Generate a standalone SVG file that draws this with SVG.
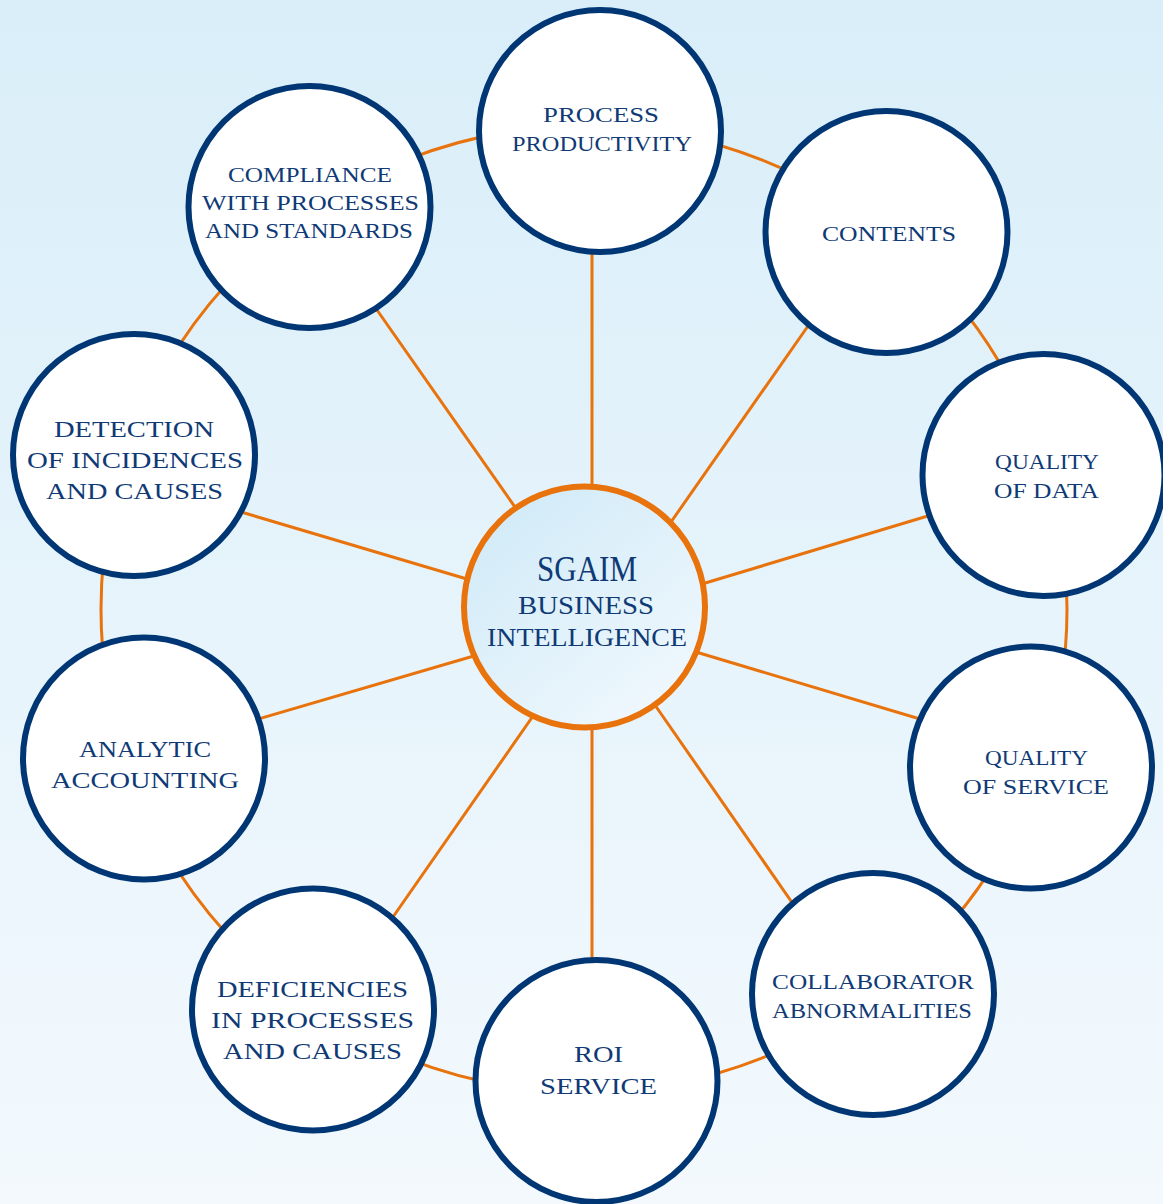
<svg xmlns="http://www.w3.org/2000/svg" width="1163" height="1204" viewBox="0 0 1163 1204">
<defs>
<linearGradient id="bg" x1="0" y1="0" x2="0" y2="1">
<stop offset="0" stop-color="#d9eef9"/>
<stop offset="1" stop-color="#f3f9fd"/>
</linearGradient>
<linearGradient id="hub" x1="0.15" y1="0.1" x2="0.85" y2="0.95">
<stop offset="0" stop-color="#d2ebf8"/>
<stop offset="1" stop-color="#f0f8fd"/>
</linearGradient>
<style>
.ring{fill:none;stroke:#e8730c;stroke-width:3}
.spoke{stroke:#e8730c;stroke-width:3;fill:none}
.node{fill:#ffffff;stroke:#003673;stroke-width:6}
.hub{fill:url(#hub);stroke:#e8730c;stroke-width:6}
text{font-family:"Liberation Serif","Times New Roman",serif;fill:#0f3a76;text-anchor:middle}
.s{font-size:22px}
.m{font-size:24px}
.c{font-size:26px}
.t{font-size:35px}
</style>
</defs>
<rect x="0" y="0" width="1163" height="1204" fill="url(#bg)"/>
<g id="connectors">
<circle class="ring" cx="584" cy="609" r="483"/>
<line class="spoke" x1="592" y1="240" x2="592" y2="500"/>
<line class="spoke" x1="592" y1="715" x2="592" y2="975"/>
<line class="spoke" x1="664" y1="532" x2="815" y2="316"/>
<line class="spoke" x1="692" y1="587" x2="941" y2="512"/>
<line class="spoke" x1="686" y1="649" x2="930" y2="722"/>
<line class="spoke" x1="648" y1="695" x2="800" y2="914"/>
<line class="spoke" x1="540" y1="706" x2="386" y2="927"/>
<line class="spoke" x1="484" y1="653" x2="248" y2="722"/>
<line class="spoke" x1="477" y1="582" x2="231" y2="509"/>
<line class="spoke" x1="522" y1="517" x2="370" y2="300"/>
</g>
<g id="hub-node">
<circle class="hub" cx="584.5" cy="607" r="120.5"/>
<text class="t" x="587" y="581" textLength="100" lengthAdjust="spacingAndGlyphs">SGAIM</text>
<text class="c" x="586" y="614" textLength="136" lengthAdjust="spacingAndGlyphs">BUSINESS</text>
<text class="c" x="587" y="646" textLength="200" lengthAdjust="spacingAndGlyphs">INTELLIGENCE</text>
</g>
<g id="node-process-productivity">
<circle class="node" cx="600" cy="131" r="121"/>
<text class="s" x="601" y="122" textLength="116" lengthAdjust="spacingAndGlyphs">PROCESS</text>
<text class="s" x="602" y="151" textLength="180" lengthAdjust="spacingAndGlyphs">PRODUCTIVITY</text>
</g>
<g id="node-contents">
<circle class="node" cx="886.5" cy="232" r="121"/>
<text class="s" x="889" y="241" textLength="134" lengthAdjust="spacingAndGlyphs">CONTENTS</text>
</g>
<g id="node-quality-of-data">
<circle class="node" cx="1043.5" cy="475" r="121"/>
<text class="s" x="1047" y="469" textLength="104" lengthAdjust="spacingAndGlyphs">QUALITY</text>
<text class="s" x="1046.5" y="498" textLength="105" lengthAdjust="spacingAndGlyphs">OF DATA</text>
</g>
<g id="node-quality-of-service">
<circle class="node" cx="1031" cy="767.5" r="121"/>
<text class="s" x="1036.5" y="765" textLength="103" lengthAdjust="spacingAndGlyphs">QUALITY</text>
<text class="s" x="1036" y="794" textLength="146" lengthAdjust="spacingAndGlyphs">OF SERVICE</text>
</g>
<g id="node-collaborator-abnormalities">
<circle class="node" cx="873" cy="994" r="121"/>
<text class="s" x="873" y="989" textLength="202" lengthAdjust="spacingAndGlyphs">COLLABORATOR</text>
<text class="s" x="872" y="1018" textLength="200" lengthAdjust="spacingAndGlyphs">ABNORMALITIES</text>
</g>
<g id="node-roi-service">
<circle class="node" cx="596.5" cy="1081" r="121"/>
<text class="m" x="598.5" y="1062" textLength="49" lengthAdjust="spacingAndGlyphs">ROI</text>
<text class="m" x="598.5" y="1094" textLength="117" lengthAdjust="spacingAndGlyphs">SERVICE</text>
</g>
<g id="node-deficiencies">
<circle class="node" cx="313" cy="1009.5" r="121"/>
<text class="m" x="312.5" y="997" textLength="191" lengthAdjust="spacingAndGlyphs">DEFICIENCIES</text>
<text class="m" x="312.5" y="1028" textLength="203" lengthAdjust="spacingAndGlyphs">IN PROCESSES</text>
<text class="m" x="312.5" y="1059" textLength="179" lengthAdjust="spacingAndGlyphs">AND CAUSES</text>
</g>
<g id="node-analytic-accounting">
<circle class="node" cx="144" cy="758.5" r="121"/>
<text class="m" x="145" y="757" textLength="132" lengthAdjust="spacingAndGlyphs">ANALYTIC</text>
<text class="m" x="145" y="788" textLength="188" lengthAdjust="spacingAndGlyphs">ACCOUNTING</text>
</g>
<g id="node-detection">
<circle class="node" cx="134" cy="455" r="121"/>
<text class="m" x="134" y="437" textLength="160" lengthAdjust="spacingAndGlyphs">DETECTION</text>
<text class="m" x="135" y="468" textLength="216" lengthAdjust="spacingAndGlyphs">OF INCIDENCES</text>
<text class="m" x="134.5" y="499" textLength="177" lengthAdjust="spacingAndGlyphs">AND CAUSES</text>
</g>
<g id="node-compliance">
<circle class="node" cx="309.5" cy="207" r="121"/>
<text class="s" x="310" y="182" textLength="164" lengthAdjust="spacingAndGlyphs">COMPLIANCE</text>
<text class="s" x="310.5" y="210" textLength="217" lengthAdjust="spacingAndGlyphs">WITH PROCESSES</text>
<text class="s" x="309" y="238" textLength="208" lengthAdjust="spacingAndGlyphs">AND STANDARDS</text>
</g>
</svg>
